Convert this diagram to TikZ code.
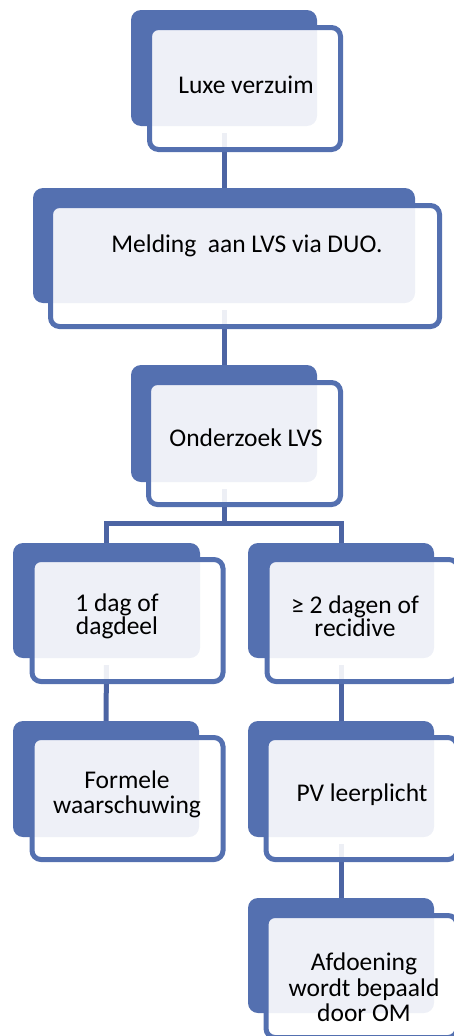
\documentclass[tikz,border=0pt]{standalone}
\usepackage{fontspec}
\setmainfont{Carlito}
\usepackage{tikz}
\usetikzlibrary{calc}
\usetikzlibrary{backgrounds}
\usetikzlibrary{positioning}

\definecolor{smblue}{RGB}{84,112,176}
\definecolor{smline}{RGB}{76,100,163}

\begin{document}
\begin{tikzpicture}[x=1pt,y=-1pt,
    back/.style={fill=smblue, rounded corners=10pt, inner sep=0pt, minimum width=186pt, minimum height=116pt},
    front/.style={draw=smblue, line width=5pt, fill=white, fill opacity=0.9, rounded corners=9pt, inner sep=0pt, minimum width=191pt, minimum height=122pt},
    txt/.style={align=center, inner sep=0pt, font=\fontsize{25.5}{25}\selectfont},
    conn/.style={draw=smline, line width=5pt}]
      \useasboundingbox (0,0) rectangle (454,1036);
      % back boxes
      \node[back] (b1) at (224,68) {};
      \node[back, minimum width=382pt, minimum height=115pt] (b2) at (224,245.5) {};
      \node[back, minimum height=117pt] (b3) at (224,423.5) {};
      \node[back, minimum width=187pt, minimum height=115pt] (l1) at (106.5,600.5) {};
      \node[back, minimum height=115pt] (r1) at (341,600.5) {};
      \node[back] (l2) at (106,779) {};
      \node[back] (r2) at (341,779) {};
      \node[back, minimum height=115pt] (r3) at (341,955.5) {};
      % connectors
      \coordinate (split) at (224,523);
      \begin{scope}[on background layer]
      \draw[conn] ([yshift=-7pt]b1.south) -- (b2.north);
      \draw[conn] ([yshift=-7pt]b2.south) -- (b3.north);
      \draw[conn] ([yshift=-7pt]b3.south) -- (split) -| (l1.north);
      \draw[conn] (split) -| (r1.north);
      \draw[conn] ([yshift=-7pt]l1.south) -- (l2.north);
      \draw[conn] ([yshift=-7pt]r1.south) -- (r2.north);
      \draw[conn] ([yshift=-7pt]r2.south) -- (r3.north);
      \end{scope}
      % front boxes
      \node[front] (f1) at ([shift={(21,20.5)}]b1.center) {};
      \node[front, minimum width=389pt, minimum height=121pt] (f2) at (245,266) {};
      \node[front, minimum width=192pt] (f3) at (244.5,443.5) {};
      \node[front] (fl1) at (127.5,620.5) {};
      \node[front] (fr1) at (362.5,620.5) {};
      \node[front] (fl2) at (127.5,798.5) {};
      \node[front] (fr2) at (361.5,798.5) {};
      \node[front] (fr3) at (361.5,976.5) {};
      % texts
      \node[txt] (t1) at ([shift={(1,-3.5)}]f1.center) {Luxe verzuim};
      \node[txt] (t2) at ([shift={(2,-20)}]f2.center) {Melding~ aan LVS via DUO.};
      \node[txt] (t3) at ([shift={(1.5,-5.5)}]f3.center) {Onderzoek LVS};
      \node[txt, font=\fontsize{25.5}{20}\selectfont] (tl1) at (117,616) {1 dag of\\dagdeel};
      \node[txt, font=\fontsize{25.5}{20}\selectfont] (tr1) at (355,616) {≥ 2 dagen of\\recidive};
      \node[txt] (tl2) at (127,794.5) {Formele\\waarschuwing};
      \node[txt] (tr2) at ([shift={(0.5,-3.5)}]fr2.center) {PV leerplicht};
      \node[txt, font=\fontsize{25.5}{25.5}\selectfont] (tr3) at (364,987.5) {Afdoening\\wordt bepaald\\door OM};
  \end{tikzpicture}
\end{document}
